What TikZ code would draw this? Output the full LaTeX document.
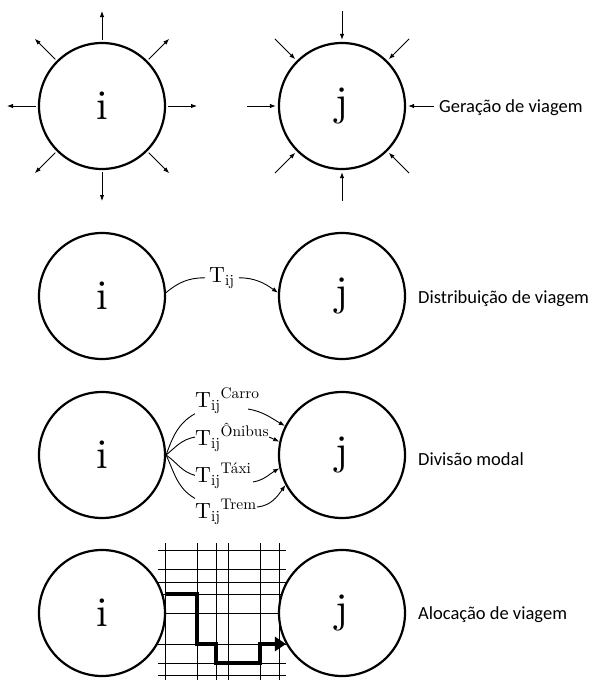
\RequirePackage{fix-cm}
\documentclass[tikz,border=0pt]{standalone}
\usepackage{amsmath}
\usepackage{fontspec}
\newfontfamily\labfont{Carlito}
\newfontfamily\tenrm{lmroman10-regular.otf}
\usetikzlibrary{arrows.meta,calc}
\begin{document}
\begin{tikzpicture}[x=1pt,y=-1pt,
 circ/.style={circle,draw,line width=2.2pt,minimum size=126pt,inner sep=0pt,fill=white,font=\tenrm\fontsize{42}{42}\selectfont},
 arr/.style={line width=0.9pt,-{Latex[length=6pt,width=4.5pt]}},
 thinline/.style={line width=0.9pt},
 lab/.style={font=\labfont\fontsize{18.5}{20}\selectfont,anchor=base west,inner sep=0pt},
 tl/.style={font=\tenrm\fontsize{22}{24}\selectfont,anchor=base west,inner sep=0pt},
 gridline/.style={line width=0.8pt},
 route/.style={line width=3.2pt,-{Triangle[length=11pt,width=14pt]}}
]
\useasboundingbox (0,0) rectangle (592,680);

% Row 1: Geracao de viagem
\node[circ] (i1) at (102,106) {i};
\node[circ] (j1) at (342,106) {j};
\foreach \a in {0,45,...,315}{
  \coordinate (io\a) at ($(i1.center)+(\a:95pt)$);
  \draw[arr,shorten <=2pt] (i1.\a) -- (io\a);
}
\foreach \a in {45,90,...,315}{
  \coordinate (ji\a) at ($(j1.center)+(\a:95pt)$);
  \draw[arr,shorten >=2pt] (ji\a) -- (j1.\a);
}
\node[lab,inner xsep=5pt] (g1) at (434,112) {Geração de viagem};
\draw[arr,shorten >=2pt] (g1.west |- j1.east) -- (j1.east);

% Row 2: Distribuicao de viagem
\node[circ] (i2) at (102,296) {i};
\node[circ] (j2) at (342,296) {j};
\node[tl,inner xsep=4pt] (t2) at (205,282) {${\text{T}_{\text{ij}}}$};
\draw[thinline] (i2.3) to[out=40,in=180] (t2.west);
\draw[arr] (t2.east) to[out=0,in=145] (j2.177);
\node[lab] (l2) at (418,303) {Distribuição de viagem};

% Row 3: Divisao modal
\node[circ] (i3) at (102,455) {i};
\node[circ] (j3) at (342,455) {j};
\node[tl] (m1) at (195,407) {${\text{T}_{\text{ij}}}^{\text{Carro}}$};
\node[tl] (m2) at (195,445) {${\text{T}_{\text{ij}}}^{\text{Ônibus}}$};
\node[tl] (m3) at (195,482) {${\text{T}_{\text{ij}}}^{\text{Táxi}}$};
\node[tl] (m4) at (195,518) {${\text{T}_{\text{ij}}}^{\text{Trem}}$};
\draw[thinline] (i3.east) to[out=70,in=210] (m1.south west);
\draw[thinline] (i3.east) to[out=40,in=190] (m2.west);
\draw[thinline] (i3.east) to[out=-35,in=165] (m3.west);
\draw[thinline] (i3.east) to[out=-65,in=150] (m4.north west);
\coordinate (c1) at (248,409);
\coordinate (c3) at (253,482);
\coordinate (c4) at (257,507);
\draw[arr] (c1) to[out=-10,in=150] (j3.153);
\draw[arr] (m2.east) -- (j3.168);
\draw[arr] (c3) to[out=10,in=210] (j3.192);
\draw[arr] (c4) to[out=5,in=235] (j3.208);
\node[lab] (l3) at (418,465) {Divisão modal};

% Row 4: Alocacao de viagem
\foreach \x in {165,197,216,228,260,279} \draw[gridline] (\x,543) -- (\x,690);
\foreach \y in {550,569,582,594,613,644,663,675} \draw[gridline] (158,\y) -- (286,\y);
\node[circ] (i4) at (102,613) {i};
\node[circ] (j4) at (342,613) {j};
\coordinate (r0) at (165,594);
\coordinate (r1) at (197,594);
\coordinate (r2) at (197,644);
\coordinate (r3) at (216,644);
\coordinate (r4) at (216,663);
\coordinate (r5) at (260,663);
\coordinate (r6) at (260,644);
\draw[route] (r0) -- (r1) -- (r2) -- (r3) -- (r4) -- (r5) -- (r6) -- (r6 -| j4.209);
\node[lab] (l4) at (418,619) {Alocação de viagem};
\end{tikzpicture}
\end{document}
